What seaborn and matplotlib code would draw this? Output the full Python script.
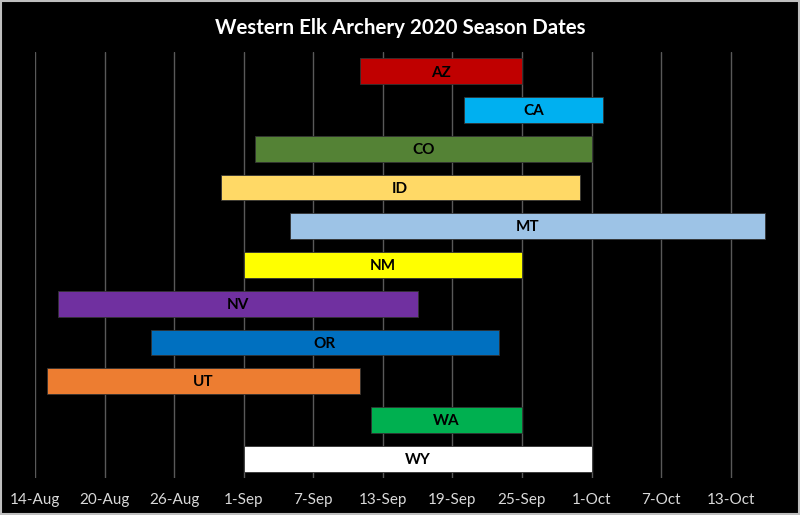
import matplotlib
matplotlib.use("Agg")
import matplotlib.pyplot as plt
import matplotlib.dates as mdates
import seaborn as sns
import pandas as pd

states = ["AZ", "CA", "CO", "ID", "MT", "NM", "NV", "OR", "UT", "WA", "WY"]
start_dates = ["2020-09-11", "2020-09-20", "2020-09-02", "2020-08-30", "2020-09-05",
               "2020-09-01", "2020-08-16", "2020-08-24", "2020-08-15", "2020-09-12", "2020-09-01"]
end_dates = ["2020-09-25", "2020-10-02", "2020-10-01", "2020-09-30", "2020-10-16",
             "2020-09-25", "2020-09-16", "2020-09-23", "2020-09-11", "2020-09-25", "2020-10-01"]
colors = ["#C00000", "#00B0F0", "#548235", "#FFD966", "#9DC3E6",
          "#FFFF00", "#7030A0", "#0070C0", "#ED7D31", "#00B050", "#FFFFFF"]
tick_dates = ["2020-08-14", "2020-08-20", "2020-08-26", "2020-09-01", "2020-09-07",
              "2020-09-13", "2020-09-19", "2020-09-25", "2020-10-01", "2020-10-07", "2020-10-13"]
tick_labels = ["14-Aug", "20-Aug", "26-Aug", "1-Sep", "7-Sep", "13-Sep",
               "19-Sep", "25-Sep", "1-Oct", "7-Oct", "13-Oct"]
axis_min, axis_max = "2020-08-14", "2020-10-17"
title = "Western Elk Archery 2020 Season Dates"

sns.set_theme(style="dark")
plt.rcParams["font.family"] = ["Lato", "DejaVu Sans"]

start_num = mdates.date2num(pd.to_datetime(start_dates))
end_num = mdates.date2num(pd.to_datetime(end_dates))
df = pd.DataFrame({"state": states, "duration": end_num - start_num})

fig = plt.figure(figsize=(8.0, 5.15), dpi=100, facecolor="black")
ax = fig.add_axes([35 / 800, 1 - 478 / 515, (777 - 35) / 800, (478 - 52) / 515])
ax.set_facecolor("black")

sns.barplot(data=df, x="duration", y="state", order=states, orient="h",
            errorbar=None, width=0.665, color="white", saturation=1,
            left=start_num, ax=ax, edgecolor="#333333", linewidth=0.6, zorder=3)
for patch, c in zip(ax.patches, colors):
    patch.set_facecolor(c)

for i, (s, e, lab) in enumerate(zip(start_num, end_num, states)):
    ax.text((s + e) / 2, i + 0.03, lab, ha="center", va="center", fontsize=11,
            fontweight="bold", color="black", zorder=4)

ax.set_xlim(mdates.date2num(pd.Timestamp(axis_min)), mdates.date2num(pd.Timestamp(axis_max)))
ax.set_xticks(mdates.date2num(pd.to_datetime(tick_dates)))
ax.set_xticklabels(tick_labels, color="#D9D9D9", fontsize=11)
ax.tick_params(axis="x", length=0, pad=11)
ax.set_yticks([])
ax.set_xlabel("")
ax.set_ylabel("")
ax.grid(axis="x", color="#595959", linewidth=1, zorder=0)
ax.grid(axis="y", visible=False)
for sp in ax.spines.values():
    sp.set_visible(False)

fig.text(0.5, 1 - 28 / 515, title, ha="center", va="center", fontsize=14.8,
         fontweight="bold", color="white")
fig.patches.append(plt.Rectangle((0.0008, 0.001), 0.9984, 0.998, transform=fig.transFigure,
                                 fill=False, edgecolor="#BFBFBF", linewidth=1.5))

fig.savefig("out.png", dpi=100, facecolor="black")
